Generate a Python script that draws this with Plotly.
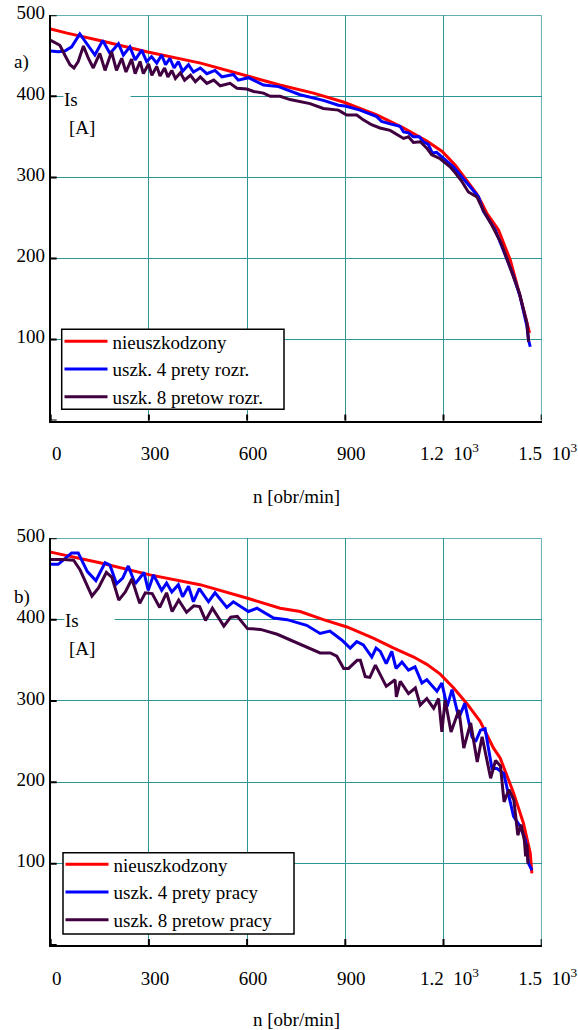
import plotly.graph_objects as go

W, H = 578, 1030
FONT = "Liberation Serif"
GRID = "#2E9494"

# ---------------- data ----------------
x_ticks = [0, 300, 600, 900, 1200, 1500]
x_ticktext = ["0", "300", "600", "900", "1.2\u00a0\u00a010<sup>3</sup>", "1.5\u00a0\u00a010<sup>3</sup>"]
y_ticks = [100, 200, 300, 400, 500]
y_ticktext = ["100", "200", "300", "400", "500"]

# a) rozruch
n_a_red = [0, 50, 150, 293, 458, 594, 700, 803, 894, 996, 1077, 1149, 1196, 1236, 1276, 1301, 1317, 1332, 1368, 1404, 1429, 1463]
is_a_red = [483, 478, 469, 455, 441, 426, 414, 404, 393, 377, 361, 345, 332, 315, 293, 280, 268, 256, 235, 198, 161, 108]

n_a_blue = [0, 23, 43, 64, 89, 107, 135, 159, 181, 207, 222, 242, 258, 278, 293, 308, 324, 339, 351, 364, 377, 390, 403, 421, 436,
            457, 477, 502, 523, 558, 573, 604, 650, 696, 731, 762, 833, 879, 899, 945, 996, 1011, 1037, 1067, 1078, 1093, 1108,
            1126, 1138, 1153, 1166, 1179, 1230, 1271, 1307, 1322, 1358, 1383, 1414, 1434, 1455, 1460, 1465]
is_a_blue = [456, 455, 456, 461, 477, 467, 451, 469, 453, 465, 451, 461, 445, 457, 443, 449, 441, 451, 439, 447, 435, 443, 431, 439, 430,
             435, 428, 432, 424, 427, 420, 423, 414, 412, 407, 402, 395, 389, 388, 383, 375, 369, 366, 363, 356, 355, 350,
             350, 344, 341, 330, 331, 313, 293, 276, 258, 235, 210, 178, 153, 116, 99, 91]

n_a_purple = [0, 28, 43, 59, 71, 84, 100, 115, 130, 150, 166, 186, 201, 217, 230, 247, 258, 273, 283, 299, 309, 324, 334, 348, 358,
              370, 381, 396, 409, 427, 442, 457, 477, 498, 518, 548, 569, 599, 620, 650, 671, 701, 731, 792, 833, 879, 904, 935,
              955, 980, 1006, 1037, 1078, 1093, 1108, 1129, 1149, 1164, 1190, 1220, 1237, 1256, 1276, 1302, 1322, 1345, 1376,
              1407, 1432, 1455, 1460]
is_a_purple = [469, 463, 451, 439, 435, 443, 462, 447, 435, 453, 432, 455, 432, 447, 430, 446, 428, 443, 428, 440, 426, 437, 425, 435, 424,
               432, 422, 429, 420, 426, 418, 424, 416, 420, 413, 416, 410, 409, 406, 404, 400, 400, 396, 391, 385, 383, 377, 377,
               371, 365, 361, 358, 348, 350, 343, 344, 336, 328, 323, 313, 305, 295, 282, 276, 259, 243, 219,
               186, 157, 120, 97]

# b) praca
n_b_red = [0, 150, 303, 456, 604, 701, 762, 833, 905, 987, 1048, 1109, 1149, 1190, 1231, 1271, 1312, 1353, 1373, 1414, 1444, 1465, 1470]
is_b_red = [483, 470, 455, 443, 426, 414, 410, 400, 391, 377, 365, 354, 345, 333, 316, 297, 275, 242, 230, 187, 150, 113, 88]

n_b_blue = [0, 23, 64, 84, 112, 138, 166, 181, 201, 220, 237, 258, 285, 298, 314, 339, 354, 370, 390, 403, 421, 436, 454, 482, 502,
            538, 558, 604, 630, 681, 722, 762, 782, 823, 853, 889, 915, 935, 955, 981, 994, 1007, 1025, 1042, 1055, 1073, 1093,
            1113, 1134, 1149, 1180, 1195, 1211, 1226, 1247, 1265, 1287, 1298, 1313, 1327, 1348, 1363, 1384, 1414, 1434, 1450,
            1460, 1470]
is_b_blue = [468, 468, 482, 482, 459, 448, 470, 467, 444, 451, 466, 444, 458, 436, 455, 436, 445, 434, 443, 428, 441, 422, 438, 422, 433,
             415, 422, 410, 414, 402, 400, 395, 393, 383, 386, 375, 365, 373, 369, 354, 365, 361, 346, 361, 340, 348, 338,
             342, 322, 326, 312, 322, 293, 314, 279, 297, 256, 250, 264, 266, 217, 217, 211, 158, 146, 129,
             100, 92]

n_b_purple = [0, 39, 70, 90, 126, 146, 170, 187, 208, 228, 248, 272, 289, 310, 333, 354, 371, 391, 415, 437, 455, 473, 494, 529, 550,
              570, 601, 641, 692, 733, 762, 792, 823, 854, 874, 895, 910, 936, 946, 961, 975, 992, 1025, 1052, 1056, 1068, 1093,
              1114, 1129, 1149, 1170, 1185, 1195, 1205, 1223, 1247, 1262, 1283, 1303, 1318, 1344, 1359, 1374, 1385, 1400, 1415,
              1427, 1437, 1447, 1451, 1455, 1458]
is_b_purple = [474, 474, 473, 461, 429, 439, 458, 452, 424, 434, 450, 420, 433, 432, 415, 433, 410, 424, 409, 417, 416, 399, 414, 392, 403,
               404, 389, 388, 382, 375, 370, 365, 359, 359, 355, 340, 340, 350, 350, 330, 329, 344, 318, 326, 305, 324, 309,
               316, 295, 303, 291, 303, 262, 301, 262, 289, 242, 273, 225, 256, 205, 227, 220, 176, 191, 178,
               135, 148, 129, 109, 125, 100]

names_a = ["nieuszkodzony", "uszk. 4 prety rozr.", "uszk. 8 pretow rozr."]
names_b = ["nieuszkodzony", "uszk. 4 prety pracy", "uszk. 8 pretow pracy"]
colors = ["#FF0000", "#0000FF", "#400040"]

# ---------------- figure ----------------
def px_x(p):
    return p / W

def px_y(p):
    return 1 - p / H

fig = go.Figure()

series_a = [(n_a_red, is_a_red), (n_a_blue, is_a_blue), (n_a_purple, is_a_purple)]
series_b = [(n_b_red, is_b_red), (n_b_blue, is_b_blue), (n_b_purple, is_b_purple)]

for (xs, ys), nm, c in zip(series_a, names_a, colors):
    fig.add_trace(go.Scatter(x=xs, y=ys, mode="lines", name=nm, line=dict(color=c, width=3),
                             xaxis="x", yaxis="y", legend="legend"))
for (xs, ys), nm, c in zip(series_b, names_b, colors):
    fig.add_trace(go.Scatter(x=xs, y=ys, mode="lines", name=nm, line=dict(color=c, width=3),
                             xaxis="x2", yaxis="y2", legend="legend2"))

xdom = [px_x(50.7), px_x(541.7)]
axfont = dict(family=FONT, size=19, color="black")

def xaxis_cfg(anchor):
    return dict(domain=xdom, anchor=anchor, range=[0, 1500], tickmode="array", tickvals=x_ticks,
                ticktext=x_ticktext, showgrid=True, gridcolor=GRID, gridwidth=1, showline=True,
                linecolor="black", linewidth=2, ticks="", tickfont=axfont, zeroline=False,
                ticklabelstandoff=15, ticklabelshift=6, fixedrange=True, automargin=False)

def yaxis_cfg(anchor, dom):
    return dict(domain=dom, anchor=anchor, range=[0, 500], tickmode="array", tickvals=y_ticks,
                ticktext=y_ticktext, showgrid=True, gridcolor=GRID, gridwidth=1, showline=True,
                linecolor="black", linewidth=2, ticks="", tickfont=axfont, zeroline=False,
                ticklabelshift=-3, fixedrange=True, automargin=False)

legend_common = dict(xanchor="left", yanchor="top", bgcolor="rgba(0,0,0,0)", borderwidth=0,
                     font=dict(family=FONT, size=19, color="black"), itemwidth=43, tracegroupgap=0)

fig.update_layout(
    width=W, height=H, margin=dict(l=0, r=0, t=0, b=0, pad=0, autoexpand=False),
    paper_bgcolor="white", plot_bgcolor="white",
    font=dict(family=FONT, size=19, color="black"),
    showlegend=True,
    xaxis=xaxis_cfg("y"),
    yaxis=yaxis_cfg("x", [px_y(420.5), px_y(15.3)]),
    xaxis2=xaxis_cfg("y2"),
    yaxis2=yaxis_cfg("x2", [px_y(945), px_y(538.3)]),
    legend=dict(x=px_x(59.5), y=px_y(322.5), **legend_common),
    legend2=dict(x=px_x(60.5), y=px_y(845.5), **legend_common),
)

shapes = []
for xa, ya in (("x", "y"), ("x2", "y2")):
    # top and right frame (teal)
    shapes.append(dict(type="line", xref=xa, yref=ya, x0=0, x1=1500, y0=500, y1=500,
                       line=dict(color=GRID, width=1.5), layer="below"))
    shapes.append(dict(type="line", xref=xa, yref=ya, x0=1500, x1=1500, y0=0, y1=500,
                       line=dict(color=GRID, width=1.5), layer="below"))
    # crossing tick marks
    for t in x_ticks:
        shapes.append(dict(type="line", xref=xa, yref=ya, ysizemode="pixel", yanchor=0,
                           x0=t, x1=t, y0=-6, y1=6, line=dict(color="black", width=2)))
    for t in [0] + y_ticks:
        shapes.append(dict(type="line", xref=xa, yref=ya, xsizemode="pixel", xanchor=0,
                           y0=t, y1=t, x0=-6, x1=6, line=dict(color="black", width=2)))
# legend frames (white box with black border)
for (l, t, r, b) in ((61.7, 329.3, 284, 409.3), (63, 852.7, 294, 934)):
    shapes.append(dict(type="rect", xref="paper", yref="paper", x0=px_x(l), x1=px_x(r),
                       y0=px_y(b), y1=px_y(t), fillcolor="white",
                       line=dict(color="black", width=1.5), layer="above"))
fig.update_layout(shapes=shapes)

tfont = dict(family=FONT, size=19, color="black")
ann = []
ann.append(dict(text="a)", x=px_x(12), y=px_y(61.7), xref="paper", yref="paper", xanchor="left",
                yanchor="middle", showarrow=False, font=tfont))
ann.append(dict(text="b)", x=px_x(12), y=px_y(597.3), xref="paper", yref="paper", xanchor="left",
                yanchor="middle", showarrow=False, font=tfont))
ann.append(dict(text="Is", x=px_x(63), y=px_y(100), xref="paper", yref="paper", xanchor="left",
                yanchor="middle", showarrow=False, font=tfont, bgcolor="white", width=66, align="left",
                borderpad=0))
ann.append(dict(text="[A]", x=px_x(67), y=px_y(128), xref="paper", yref="paper", xanchor="left",
                yanchor="middle", showarrow=False, font=tfont))
ann.append(dict(text="Is", x=px_x(64), y=px_y(620), xref="paper", yref="paper", xanchor="left",
                yanchor="middle", showarrow=False, font=tfont, bgcolor="white", width=49, align="left",
                borderpad=0))
ann.append(dict(text="[A]", x=px_x(67), y=px_y(648.3), xref="paper", yref="paper", xanchor="left",
                yanchor="middle", showarrow=False, font=tfont))
ann.append(dict(text="n [obr/min]", x=px_x(296), y=px_y(496.7), xref="paper", yref="paper",
                xanchor="center", yanchor="middle", showarrow=False, font=tfont))
ann.append(dict(text="n [obr/min]", x=px_x(296), y=px_y(1019), xref="paper", yref="paper",
                xanchor="center", yanchor="middle", showarrow=False, font=tfont))
fig.update_layout(annotations=ann)

fig.write_html(
    "out.html",
    config={"displayModeBar": False},
    post_script="document.body.style.margin='0';document.body.style.overflow='hidden';",
)
